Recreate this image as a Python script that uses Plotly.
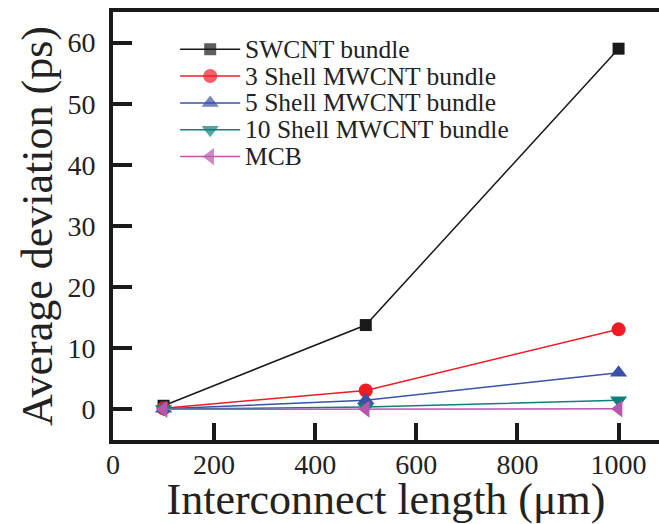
import plotly.graph_objects as go

# Interconnect lengths (µm)
lengths = [100, 500, 1000]

# Average deviation (ps) for each interconnect type
swcnt = [0.6, 13.8, 59.0]
mwcnt_3 = [0.2, 3.1, 13.1]
mwcnt_5 = [0.1, 1.5, 6.0]
mwcnt_10 = [0.05, 0.4, 1.5]
mcb = [0.02, 0.05, 0.1]

series_names = [
    "SWCNT bundle",
    "3 Shell MWCNT bundle",
    "5 Shell MWCNT bundle",
    "10 Shell MWCNT bundle",
    "MCB",
]
series_values = [swcnt, mwcnt_3, mwcnt_5, mwcnt_10, mcb]
colors = ["#1a1a1a", "#ee1c25", "#3a52a6", "#0e7f7b", "#b857ad"]
symbols = ["square", "circle", "triangle-up", "triangle-down", "triangle-left"]
sizes = [12, 14, 15, 15, 15]

x_ticks = [0, 200, 400, 600, 800, 1000]
y_ticks = [0, 10, 20, 30, 40, 50, 60]

serif = "Liberation Serif, Times New Roman, serif"
ink = "#222222"

fig = go.Figure()
for name, vals, col, sym, sz in zip(series_names, series_values, colors, symbols, sizes):
    fig.add_trace(
        go.Scatter(
            x=lengths,
            y=vals,
            name=name,
            mode="lines+markers",
            line=dict(color=col, width=1.5),
            marker=dict(symbol=sym, size=sz, color=col, line=dict(width=0)),
            showlegend=False,
        )
    )

# Key drawn inside the plot area on a hidden unit-square overlay axis,
# so the rows can sit closer together than the built-in legend allows.
key_x0, key_x1 = 0.123, 0.233
key_text_x = 0.238
key_top, key_step = 0.913, 0.0627
annotations = []
for i, (name, col, sym, sz) in enumerate(zip(series_names, colors, symbols, sizes)):
    row_y = key_top - i * key_step
    fig.add_trace(
        go.Scatter(
            x=[key_x0, (key_x0 + key_x1) / 2, key_x1],
            y=[row_y, row_y, row_y],
            mode="lines+markers",
            line=dict(color=col, width=1.5),
            marker=dict(symbol=sym, size=[0, sz, 0], color=col, line=dict(width=0)),
            xaxis="x2",
            yaxis="y2",
            showlegend=False,
            hoverinfo="skip",
        )
    )
    annotations.append(
        dict(
            x=key_text_x,
            y=row_y,
            xref="paper",
            yref="paper",
            xanchor="left",
            yanchor="middle",
            text=name,
            showarrow=False,
            font=dict(family=serif, size=25.5, color=ink),
        )
    )

fig.update_layout(
    width=659,
    height=524,
    margin=dict(l=113, r=0, t=12, b=84),
    paper_bgcolor="white",
    plot_bgcolor="white",
    font=dict(family=serif, color=ink),
    showlegend=False,
    annotations=annotations,
    xaxis=dict(
        range=[0, 1080],
        tickvals=x_ticks,
        ticktext=[str(v) for v in x_ticks],
        ticks="inside",
        ticklen=17,
        tickwidth=4,
        tickcolor="#1a1a1a",
        showline=True,
        linewidth=4,
        linecolor="#1a1a1a",
        mirror=True,
        showgrid=False,
        zeroline=False,
        tickfont=dict(family=serif, size=28, color=ink),
        ticklabelstandoff=-4,
        title=dict(
            text="Interconnect length (μm)",
            font=dict(family=serif, size=44, color=ink),
            standoff=9,
        ),
    ),
    yaxis=dict(
        range=[-5, 65],
        tickvals=y_ticks,
        ticktext=[str(v) for v in y_ticks],
        ticks="inside",
        ticklen=19,
        tickwidth=4,
        tickcolor="#1a1a1a",
        showline=True,
        linewidth=4,
        linecolor="#1a1a1a",
        mirror=False,
        showgrid=False,
        zeroline=False,
        tickfont=dict(family=serif, size=28, color=ink),
        ticklabelstandoff=8,
        title=dict(
            text="Average deviation (ps)",
            font=dict(family=serif, size=44, color=ink),
            standoff=2,
        ),
    ),
    xaxis2=dict(range=[0, 1], overlaying="x", visible=False, fixedrange=True),
    yaxis2=dict(range=[0, 1], overlaying="y", visible=False, fixedrange=True),
)

fig.write_html("out.html")
